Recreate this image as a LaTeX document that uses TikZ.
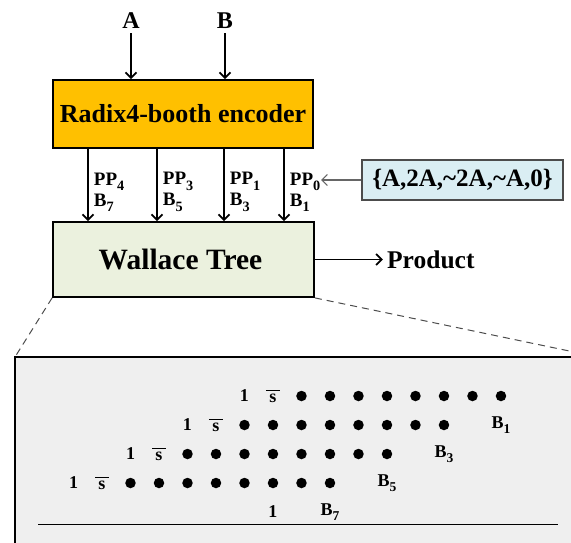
\documentclass[tikz,border=0pt]{standalone}
\usepackage{fontspec}
\setmainfont{Liberation Serif}
\usetikzlibrary{matrix,arrows.meta,positioning}

\definecolor{encfill}{HTML}{FFC000}
\definecolor{wtfill}{HTML}{EBF1DE}
\definecolor{setfill}{HTML}{DAEEF3}
\definecolor{panelfill}{HTML}{EFEFEF}

\tikzset{
  blk/.style={draw, line width=1.8pt, inner sep=0pt},
  ppl/.style={right, xshift=5pt, yshift=-7pt, inner sep=0pt, align=left,
    font=\bfseries\fontsize{19}{21}\selectfont},
  dot/.style={circle, fill, inner sep=0pt, minimum size=10.5pt},
  zoomline/.style={dashed, dash pattern=on 7pt off 5pt, line width=1pt, black!70},
}
\newcommand{\sbar}{$\overline{\hbox to 14pt{\hss s\hss}\vphantom{1}}$}
\newcommand{\sub}[1]{\raisebox{-0.28em}{\scalebox{0.75}{#1}}}

\begin{document}
\begin{tikzpicture}[x=1pt, y=-1pt, >={Straight Barb[length=5.5pt,width=11pt]}, line width=1.8pt]
  \useasboundingbox (0,0) rectangle (571,543);
  \clip (0,0) rectangle (571,543);

  \node[blk, fill=encfill, minimum width=260pt, minimum height=68pt,
    font=\bfseries\fontsize{26}{30}\selectfont] (enc) at (183,114) {Radix4-booth encoder};
  \node[blk, fill=wtfill, minimum width=261pt, minimum height=75pt,
    font=\bfseries\fontsize{29.5}{34}\selectfont] (wt) at (183.5,259.5) {\hspace{-6pt}Wallace Tree};
  \node[draw=black!70, line width=1.1pt, fill=setfill, minimum width=201pt, minimum height=40pt,
    inner sep=0pt, font=\bfseries\fontsize{25}{30}\selectfont] (set) at (462.5,180) {\{A,2A,\textasciitilde2A,\textasciitilde A,0\}};

  \node[font=\bfseries\fontsize{24}{28}\selectfont] (A) at (131,21) {A};
  \node[font=\bfseries\fontsize{24}{28}\selectfont] (B) at (225,21) {B};
  \draw[->] (A) -- (A |- enc.north);
  \draw[->] (B) -- (B |- enc.north);

  \foreach \x/\p/\b in {88/4/7, 157/3/5, 224/1/3, 284/0/1}
    \path[->] (enc.south -| \x,0) edge node[ppl] (pp\p) {PP\sub{\p}\\B\sub{\b}} (wt.north -| \x,0);
  \draw[->, black!60, line width=1.1pt] (set) -- (set -| pp0.east);

  \node[font=\bfseries\fontsize{25.5}{30}\selectfont, right=68pt of wt] (prod) {Product};
  \draw[->] (wt) -- (prod);

  % zoomed view of the partial products
  \coordinate (pnw) at (15,357);
  \coordinate (pne) at (598,357);
  \draw[line width=1.6pt, fill=panelfill] (pnw) rectangle (598,570);
  \draw[zoomline] (wt.south west) -- (pnw);
  \draw[zoomline] (wt.south east) -- (pne);
  \draw[line width=1pt] (38,524) -- (558,524);

  \matrix (m) [matrix of nodes, matrix anchor=m-4-1.center,
    column sep={28.5pt,between origins}, row sep={29pt,between origins},
    nodes={anchor=center, inner sep=0pt, font=\bfseries\fontsize{18}{20}\selectfont}] at (73.5,483)
  {
     & & & & & & 1 & \sbar & |[dot]| & |[dot]| & |[dot]| & |[dot]| & |[dot]| & |[dot]| & |[dot]| & |[dot]| \\
     & & & & 1 & \sbar & |[dot]| & |[dot]| & |[dot]| & |[dot]| & |[dot]| & |[dot]| & |[dot]| & |[dot]| & & B\sub{1} \\
     & & 1 & \sbar & |[dot]| & |[dot]| & |[dot]| & |[dot]| & |[dot]| & |[dot]| & |[dot]| & |[dot]| & & B\sub{3} & & \\
    1 & \sbar & |[dot]| & |[dot]| & |[dot]| & |[dot]| & |[dot]| & |[dot]| & |[dot]| & |[dot]| & & B\sub{5} & & & & \\
     & & & & & & & 1 & & B\sub{7} & & & & & & \\
  };
\end{tikzpicture}
\end{document}
